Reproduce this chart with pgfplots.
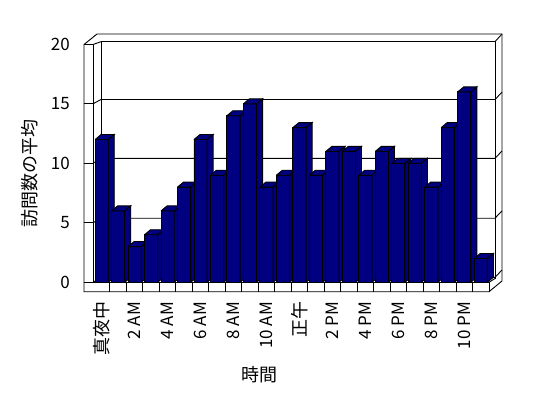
\documentclass[border=0pt]{standalone}
\usepackage{fontspec}
\setmainfont{Noto Sans CJK JP}
\usepackage{pgfplots}
\pgfplotsset{compat=1.18}
\usepackage{pgfplotstable}
\definecolor{navybar}{RGB}{0,0,128}
\newcommand\cjkfs{\fontsize{18bp}{20bp}\selectfont}
\newcommand\latfs{\fontsize{17bp}{19bp}\selectfont}
\pgfplotstableread{
h v
0 12
1 6
2 3
3 4
4 6
5 8
6 12
7 9
8 14
9 15
10 8
11 9
12 13
13 9
14 11
15 11
16 9
17 11
18 10
19 10
20 8
21 13
22 16
23 2
}\visits
\begin{document}
\begin{tikzpicture}
\path[use as bounding box] (0,0) rectangle (548bp,-398bp);
\fill[white] (0,0) rectangle (548bp,-398bp);
% walls and floor (pixel coordinates, y downwards)
\begin{scope}[x=1bp,y=-1bp,line width=0.9bp,line join=miter]
\filldraw[fill=white] (84,291.7) -- (84,44.5) -- (97,34) -- (502,34) -- (502,281) -- (489,291.7) -- cycle;
\draw (84,44.5) -- (93,44.5) -- (101,41.7);
\draw (93,44.5) -- (93,282.3);
\draw (101,277.3) -- (101,41.7) -- (495,41.7) -- (495,278.5);
\draw (495,41.7) -- (502,34);
\draw (93,282.3) -- (489,282.3) -- (489,291.7);
\draw (489,282.3) -- (495,278.5);
\foreach \i in {0,...,22} \draw ({101.7+16.48*(\i+0.5)},282.3) -- ++(0,9.4);
\foreach \yf/\yb in {282.3/277.3, 222.8/218.2, 163.3/158.3, 103.8/99.5}
  \draw (93,\yf) -- (101,\yb) -- (495,\yb) -- (502,\yb-7.3);
\end{scope}
\begin{axis}[
  at={(84bp,-291.7bp)}, anchor=south west,
  x=16.48bp, y=11.9bp,
  xmin=-1.074, xmax=24.29, ymin=-0.790, ymax=20.866,
  axis line style={draw=none},
  xtick={0,2,...,22},
  xticklabels={{\cjkfs 真夜中},2\ AM,4\ AM,6\ AM,8\ AM,10\ AM,{\cjkfs 正午},2\ PM,4\ PM,6\ PM,8\ PM,10\ PM},
  ytick={0,5,...,20},
  ytick pos=left, xtick pos=bottom,
  tick align=inside, major tick length=9bp,
  major x tick style=transparent,
  y tick style={black, line width=0.9bp},
  /pgf/number format/assume math mode=true,
  tick label style={font=\latfs, inner sep=0pt},
  xticklabel style={rotate=90, anchor=east},
  yticklabel style={anchor=east},
  xticklabel shift=10bp, yticklabel shift=14bp,
  xlabel={時間}, ylabel={訪問数の平均},
  every axis x label/.style={at={(axis description cs:0.421,-0.323)}, anchor=center, font=\cjkfs},
  every axis y label/.style={at={(axis description cs:-0.129,0.457)}, rotate=90, anchor=center, font=\cjkfs},
  barface/.style={fill=navybar, draw=black, line width=0.9bp, line join=miter, mark=none},
]
\pgfplotsinvokeforeach{0,...,23}{
  \pgfplotstablegetelem{#1}{v}\of\visits
  \pgfmathsetmacro\v{\pgfplotsretval}
  \pgfmathsetmacro\xl{#1-0.40}
  \pgfmathsetmacro\xr{#1+0.40}
  \pgfmathsetmacro\xlb{#1-0.40+0.364}
  \pgfmathsetmacro\xrb{#1+0.40+0.364}
  \pgfmathsetmacro\vt{\v+0.42}
  \edef\temp{%
    \noexpand\addplot[barface] coordinates {(\xl,0) (\xr,0) (\xr,\v) (\xl,\v) (\xl,0)};
    \noexpand\addplot[barface] coordinates {(\xl,\v) (\xr,\v) (\xrb,\vt) (\xlb,\vt) (\xl,\v)};
    \noexpand\addplot[barface] coordinates {(\xr,0) (\xrb,0.42) (\xrb,\vt) (\xr,\v) (\xr,0)};
  }\temp
}
\end{axis}
\end{tikzpicture}
\end{document}
